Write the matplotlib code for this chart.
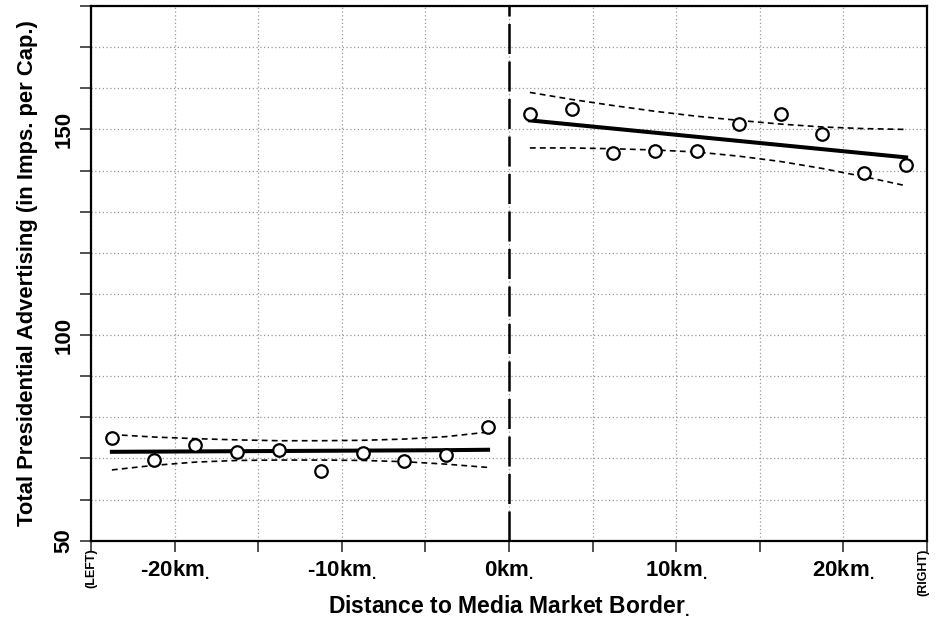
import matplotlib
matplotlib.use("Agg")
import matplotlib.pyplot as plt
import numpy as np

plt.rcParams["font.family"] = ["Liberation Sans", "DejaVu Sans"]
plt.rcParams["font.weight"] = "bold"
plt.rcParams["axes.labelweight"] = "bold"
plt.rcParams["mathtext.fontset"] = "custom"
plt.rcParams["mathtext.rm"] = "Liberation Sans"

# binned means, left and right of the border (km)
left_x = [-23.75, -21.25, -18.75, -16.25, -13.75, -11.25, -8.75, -6.25, -3.75, -1.25]
left_y = [75.0, 69.6, 73.2, 71.5, 72.0, 67.0, 71.3, 69.4, 70.9, 77.7]
right_x = [1.25, 3.75, 6.25, 8.75, 11.25, 13.75, 16.25, 18.75, 21.25, 23.75]
right_y = [153.7, 155.0, 144.3, 144.7, 144.7, 151.4, 153.7, 149.0, 139.5, 141.3]

# fitted lines and confidence bands, read at the bin centres
left_fit = [71.6, 71.65, 71.7, 71.75, 71.8, 71.85, 71.9, 71.95, 72.0, 72.1]
left_hi = [75.8, 75.2, 74.8, 74.5, 74.3, 74.3, 74.4, 74.7, 75.3, 76.4]
left_lo = [67.2, 68.3, 69.1, 69.5, 69.6, 69.6, 69.5, 69.2, 68.6, 67.8]
right_fit = [152.2, 151.2, 150.2, 149.2, 148.2, 147.2, 146.2, 145.2, 144.2, 143.2]
right_hi = [159.0, 157.3, 155.8, 154.4, 153.2, 152.2, 151.3, 150.6, 150.2, 150.0]
right_lo = [145.5, 145.5, 145.3, 145.0, 144.5, 143.5, 142.2, 140.5, 138.5, 136.3]

xticks = [-25, -20, -15, -10, -5, 0, 5, 10, 15, 20, 25]
xlabels = ["", "-20km", "", "-10km", "", "0km", "", "10km", "", "20km", ""]
yticks = [50, 60, 70, 80, 90, 100, 110, 120, 130, 140, 150, 160, 170, 180]

fig = plt.figure(figsize=(9.37, 6.2), dpi=100)
ax = fig.add_axes([0.0971, 0.128, 0.8922, 0.8622])

ax.axvline(0, color="black", lw=1.8, linestyle=(0, (12, 3)), zorder=3)

for xs, ys, fit, hi, lo in [(left_x, left_y, left_fit, left_hi, left_lo),
                            (right_x, right_y, right_fit, right_hi, right_lo)]:
    ax.plot(xs, fit, color="black", lw=2.9, zorder=4)
    ax.plot(xs, hi, color="black", lw=1.2, linestyle=(0, (3.5, 2.5)), zorder=4)
    ax.plot(xs, lo, color="black", lw=1.2, linestyle=(0, (3.5, 2.5)), zorder=4)
    ax.plot(xs, ys, "o", mfc="white", mec="black", ms=9, mew=1.6, zorder=5)

ax.set_xlim(-25, 24.8)
ax.set_ylim(50, 180)
ax.set_xticks(xticks)
ax.set_xticklabels([l + r"$_{.}$" if l else "" for l in xlabels], fontsize=16)
ax.set_yticks(yticks)
ax.set_yticklabels([str(v) if v in (50, 100, 150) else "" for v in yticks],
                   fontsize=16, rotation=90, va="center")
ax.tick_params(direction="out", length=8, width=1.2, color="#333333")
ax.tick_params(axis="x", pad=5)
ax.tick_params(axis="y", pad=4)
ax.grid(True, color="#999999", linestyle=(0, (1, 2)), lw=0.9)
ax.set_axisbelow(True)
for s in ax.spines.values():
    s.set_linewidth(1.6)

ax.text(-25, -0.015, "(LEFT)", transform=ax.get_xaxis_transform(), rotation=90,
        ha="center", va="top", fontsize=9, fontweight="bold")
ax.text(24.8, -0.015, "(RIGHT)", transform=ax.get_xaxis_transform(), rotation=90,
        ha="center", va="top", fontsize=9, fontweight="bold")

ax.set_xlabel("Distance to Media Market Border" + r"$_{.}$", fontsize=16.5, labelpad=8)
ax.set_ylabel("Total Presidential Advertising (in Imps. per Cap.)", fontsize=15.8, labelpad=11)

fig.savefig("out.png", dpi=100)
